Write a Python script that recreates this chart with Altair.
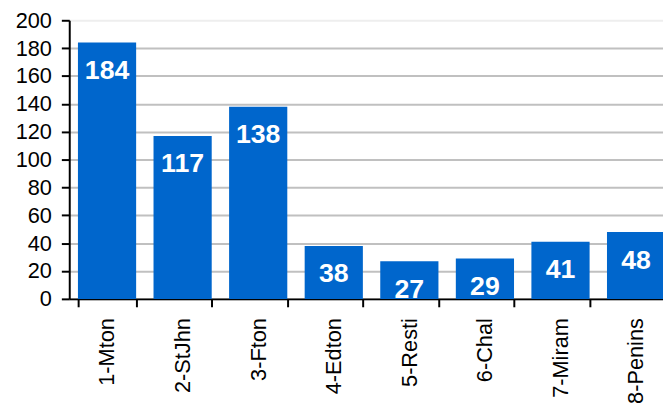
import altair as alt
import pandas as pd

categories = ["1-Mton", "2-StJhn", "3-Fton", "4-Edton", "5-Resti", "6-Chal", "7-Miram", "8-Penins"]
values = [184, 117, 138, 38, 27, 29, 41, 48]

df = pd.DataFrame({"cat": categories, "val": values})

FONT = "Liberation Sans"

x = alt.X("cat:N", sort=categories,
          scale=alt.Scale(paddingInner=0.23, paddingOuter=0.115, range=[0, 612]),
          axis=alt.Axis(title=None, labelAngle=-90, labelAlign="right", labelBaseline="middle",
                        labelFontSize=22, labelFont=FONT, labelColor="black",
                        labelPadding=11, tickSize=8, tickWidth=2, tickColor="black",
                        tickBand="extent", domainColor="black", domainWidth=2, grid=False))
y = alt.Y("val:Q", scale=alt.Scale(domain=[0, 200], nice=False),
          axis=alt.Axis(title=None, values=list(range(0, 201, 20)), labelFontSize=22, labelFont=FONT,
                        labelColor="black", labelPadding=10, tickSize=8, tickWidth=2, tickColor="black",
                        domainColor="black", domainWidth=2,
                        gridColor=alt.condition(alt.datum.value == 200, alt.value("#eeeeee"), alt.value("#c0c0c0")),
                        gridWidth=2))

bars = alt.Chart(df).mark_bar(color="#0066CC").encode(x=x, y=y)
labels = alt.Chart(df).mark_text(color="white", fontSize=27, fontWeight="bold", font=FONT,
                                 baseline="middle", dy=29).encode(x=x, y=y, text="val:Q")

chart = (bars + labels).properties(
    width=601, height=282,
    autosize=alt.AutoSizeParams(type="none"),
    padding={"left": 62, "top": 10, "right": 0, "bottom": 106},
).configure_view(stroke=None)

chart.save("out.html", embed_options={"renderer": "svg", "actions": False})
